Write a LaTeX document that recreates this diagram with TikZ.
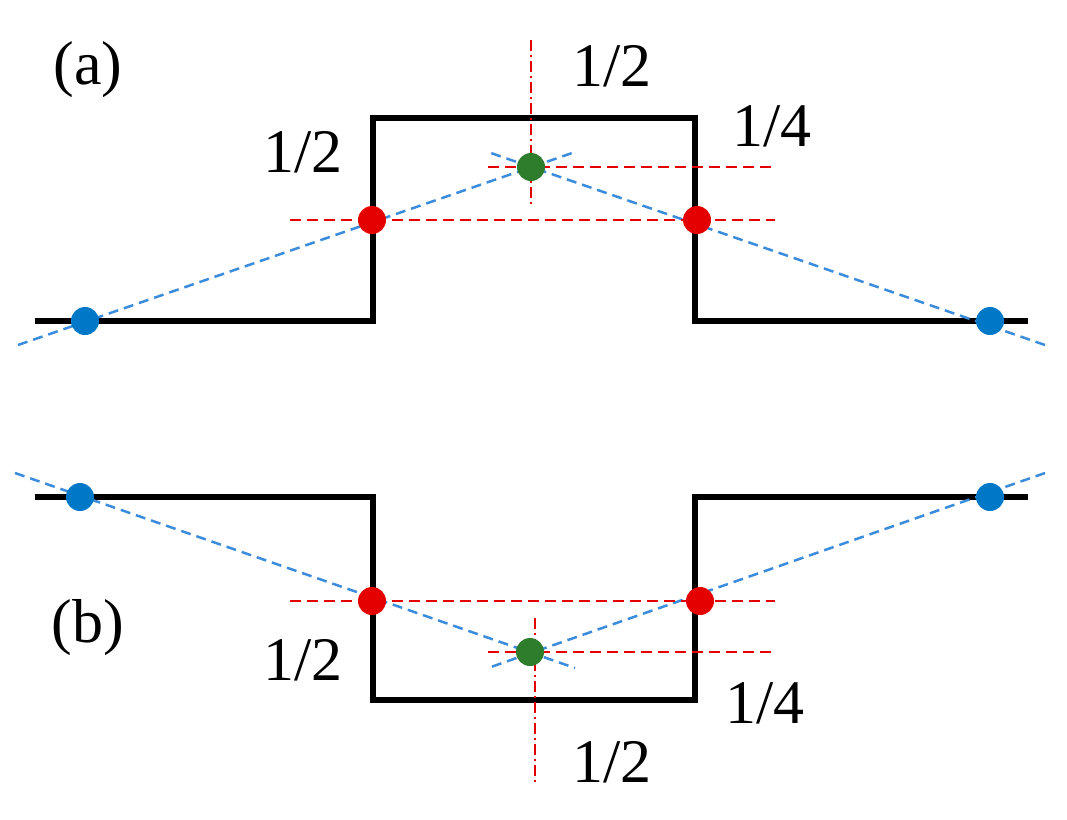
\documentclass[tikz,border=0pt]{standalone}
\usepackage{fontspec}
\setmainfont{Liberation Serif}
\begin{document}
\begin{tikzpicture}[x=1pt,y=-1pt,
  wall/.style={line width=6pt,black},
  blu/.style={line width=2.5pt,color={rgb,255:red,60;green,140;blue,220},dash pattern=on 10pt off 6pt},
  rd/.style={line width=2.5pt,red!90!black,dash pattern=on 11pt off 6pt},
  rdv/.style={line width=2pt,red!90!black,dash pattern=on 11pt off 4pt on 2pt off 4pt},
  dot/.style={circle,inner sep=0pt,minimum size=28pt},
  lab/.style={font=\fontsize{62}{62}\selectfont}]
\useasboundingbox (0,0) rectangle (1067,819);
% (a)
\draw[wall] (35,321) -- (373,321) -- (373,118) -- (695,118) -- (695,321) -- (1028,321);
\coordinate (a1) at (18,345); \coordinate (a2) at (575,152);
\coordinate (a3) at (1045,345); \coordinate (a4) at (488,152);
\draw[blu] (a1) -- (a2); \draw[blu] (a3) -- (a4);
\coordinate (h1) at (290,220); \coordinate (h2) at (775,220);
\coordinate (h3) at (488,167); \coordinate (h4) at (775,167);
\coordinate (v1) at (531,40); \coordinate (v2) at (531,205);
\draw[rd] (h1) -- (h2); \draw[rd] (h3) -- (h4); \draw[rdv] (v1) -- (v2);
\node[dot,fill={rgb,255:red,0;green,120;blue,200}] (ba1) at (85,321) {};
\node[dot,fill={rgb,255:red,0;green,120;blue,200}] (ba2) at (990,321) {};
\node[dot,fill=red!90!black] (ra1) at (372,220) {};
\node[dot,fill=red!90!black] (ra2) at (697,220) {};
\node[dot,fill={rgb,255:red,45;green,125;blue,45}] (ga) at (531,167) {};
\node[lab] (la) at (88,70) {(a)};
\node[lab] (la1) at (612,66) {1/2};
\node[lab] (la2) at (772,126) {1/4};
\node[lab] (la3) at (303,152) {1/2};
% (b)
\draw[wall] (35,497) -- (373,497) -- (373,700) -- (695,700) -- (695,497) -- (1028,497);
\coordinate (b1) at (15,473); \coordinate (b2) at (575,668);
\coordinate (b3) at (1045,473); \coordinate (b4) at (488,668);
\draw[blu] (b1) -- (b2); \draw[blu] (b3) -- (b4);
\coordinate (k1) at (290,601); \coordinate (k2) at (775,601);
\coordinate (k3) at (488,652); \coordinate (k4) at (775,652);
\coordinate (w1) at (535,618); \coordinate (w2) at (535,782);
\draw[rd] (k1) -- (k2); \draw[rd] (k3) -- (k4); \draw[rdv] (w1) -- (w2);
\node[dot,fill={rgb,255:red,0;green,120;blue,200}] (bb1) at (80,497) {};
\node[dot,fill={rgb,255:red,0;green,120;blue,200}] (bb2) at (990,497) {};
\node[dot,fill=red!90!black] (rb1) at (372,601) {};
\node[dot,fill=red!90!black] (rb2) at (700,601) {};
\node[dot,fill={rgb,255:red,45;green,125;blue,45}] (gb) at (530,652) {};
\node[lab] (lb) at (88,628) {(b)};
\node[lab] (lb1) at (612,762) {1/2};
\node[lab] (lb2) at (765,703) {1/4};
\node[lab] (lb3) at (303,660) {1/2};
\end{tikzpicture}
\end{document}
